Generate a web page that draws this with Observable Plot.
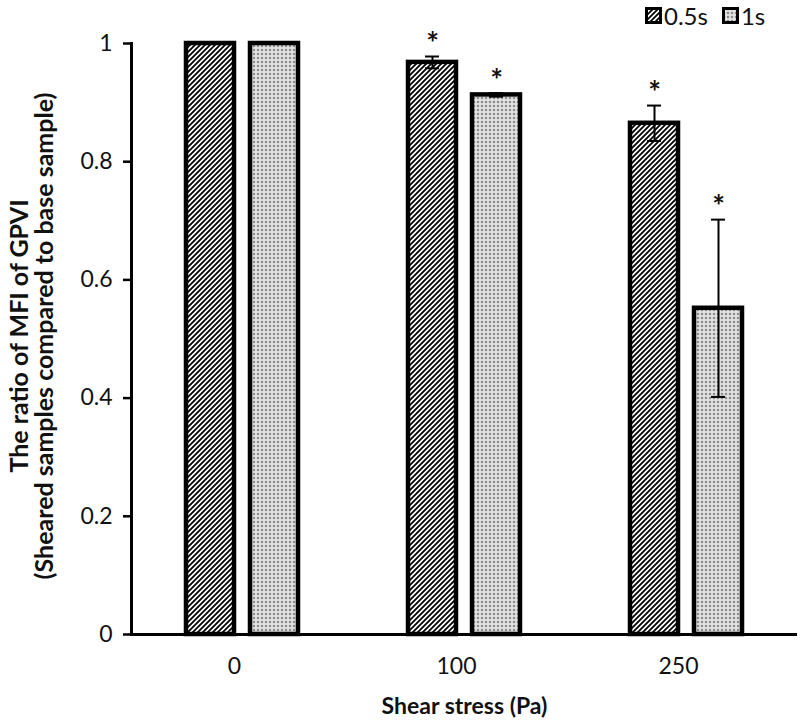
<!DOCTYPE html>
<html><head><meta charset="utf-8">
<script src="https://cdn.jsdelivr.net/npm/d3@7"></script>
<script src="https://cdn.jsdelivr.net/npm/@observablehq/plot@0.6"></script>
<style>
body{margin:0;background:#fff;}
#wrap{position:relative;width:800px;height:728px;font-family:Lato,sans-serif;}
#legend{position:absolute;top:2px;left:645px;display:flex;align-items:center;font-size:24px;color:#111;line-height:1.15;}
#legend .it{display:flex;align-items:center;margin-right:14px;}
#legend svg{margin-right:2px;}
</style></head><body><div id="wrap"><div id="legend"></div></div>
<script>
const stress = ["0", "100", "250"];
const series = ["0.5s", "1s"];
const ratio05 = [1, 0.968, 0.865];
const ratio1 = [1, 0.913, 0.552];
const err05 = [0, 0.01, 0.03];
const err1 = [0, 0.003, 0.15];
const sig05 = ["", "*", "*"];
const sig1 = ["", "*", "*"];
const yTicks = [0, 0.2, 0.4, 0.6, 0.8, 1];

const rows = [];
stress.forEach((s, i) => {
  rows.push({stress: s, series: "0.5s", ratio: ratio05[i], err: err05[i], sig: sig05[i]});
  rows.push({stress: s, series: "1s", ratio: ratio1[i], err: err1[i], sig: sig1[i]});
});

const W = 800, H = 728, ML = 131, MR = 3, MT = 43, MB = 94;
const band = (W - ML - MR) / stress.length;
const barW = 48, off = 32, capW = 7;
const fills = {"0.5s": "url(#hatch)", "1s": "url(#dots)"};

function seriesMarks(ser) {
  const d = rows.filter(r => r.series === ser);
  const sign = ser === "0.5s" ? -1 : 1;
  const center = band / 2 + sign * off;
  const e = d.filter(r => r.err > 0);
  const s = d.filter(r => r.sig);
  return [
    Plot.barY(d, {x: "stress", y: "ratio", fill: fills[ser], stroke: "black", strokeWidth: 4.5,
      insetLeft: center - barW / 2, insetRight: band - center - barW / 2}),
    Plot.ruleX(e, {x: "stress", y1: r => r.ratio - r.err, y2: r => r.ratio + r.err, dx: sign * off, stroke: "black", strokeWidth: 2}),
    Plot.tickY(e, {x: "stress", y: r => r.ratio + r.err, stroke: "black", strokeWidth: 2,
      insetLeft: center - capW, insetRight: band - center - capW}),
    Plot.tickY(e, {x: "stress", y: r => r.ratio - r.err, stroke: "black", strokeWidth: 2,
      insetLeft: center - capW, insetRight: band - center - capW}),
    Plot.text(s, {x: "stress", y: r => r.ratio + r.err, text: "sig", dx: sign * off, dy: -12,
      fontSize: 30, fontWeight: "bold", fill: "#111"})
  ];
}

const plot = Plot.plot({
  width: W, height: H,
  marginLeft: ML, marginRight: MR, marginTop: MT, marginBottom: MB,
  style: {fontFamily: "Lato, sans-serif", background: "white", color: "#111"},
  x: {domain: stress, padding: 0},
  y: {domain: [0, 1]},
  marks: [
    ...seriesMarks("0.5s"),
    ...seriesMarks("1s"),
    Plot.axisY({ticks: yTicks, tickFormat: d => String(+d.toFixed(1)), tickSize: 8, tickPadding: 11,
      fontSize: 23, label: null, strokeWidth: 2.5, stroke: "black"}),
    Plot.axisX({tickSize: 0, tickPadding: 23, fontSize: 23, label: null, dx: -8}),
    Plot.frame({anchor: "left", stroke: "black", strokeWidth: 3}),
    Plot.ruleY([0], {stroke: "black", strokeWidth: 3}),
    Plot.text(["The ratio of MFI of GPVI\n(Sheared samples compared to base sample)"],
      {frameAnchor: "left", textAnchor: "middle", rotate: -90, dx: -99, dy: -3, fontSize: 25, fontWeight: "bold", lineHeight: 1.0, fill: "#111"}),
    Plot.text(["Shear stress (Pa)"], {frameAnchor: "bottom", dy: 79, fontSize: 23, fontWeight: "bold", fill: "#111"})
  ]
});

const defs = d3.select(plot).insert("defs", ":first-child");
const h = defs.append("pattern").attr("id", "hatch").attr("patternUnits", "userSpaceOnUse")
  .attr("width", 5).attr("height", 5);
h.append("rect").attr("width", 5).attr("height", 5).attr("fill", "white");
h.append("path").attr("d", "M-1,1 l2,-2 M0,5 l5,-5 M4,6 l2,-2").attr("stroke", "black").attr("stroke-width", 1.8);
const p = defs.append("pattern").attr("id", "dots").attr("patternUnits", "userSpaceOnUse")
  .attr("width", 4).attr("height", 4);
p.append("rect").attr("width", 4).attr("height", 4).attr("fill", "#f2f2f2");
p.append("rect").attr("x", 0.5).attr("y", 0.5).attr("width", 3).attr("height", 3).attr("fill", "#bdbdbd");
p.append("circle").attr("cx", 2).attr("cy", 2).attr("r", 0.9).attr("fill", "#777");

document.getElementById("wrap").appendChild(plot);

const leg = d3.select("#legend");
series.forEach(ser => {
  const it = leg.append("div").attr("class", "it");
  const sv = it.append("svg").attr("width", 17).attr("height", 17);
  sv.append("rect").attr("x", 1.5).attr("y", 1.5).attr("width", 14).attr("height", 14)
    .attr("fill", fills[ser]).attr("stroke", "black").attr("stroke-width", 3);
  it.append("span").text(ser);
});
</script></body></html>
